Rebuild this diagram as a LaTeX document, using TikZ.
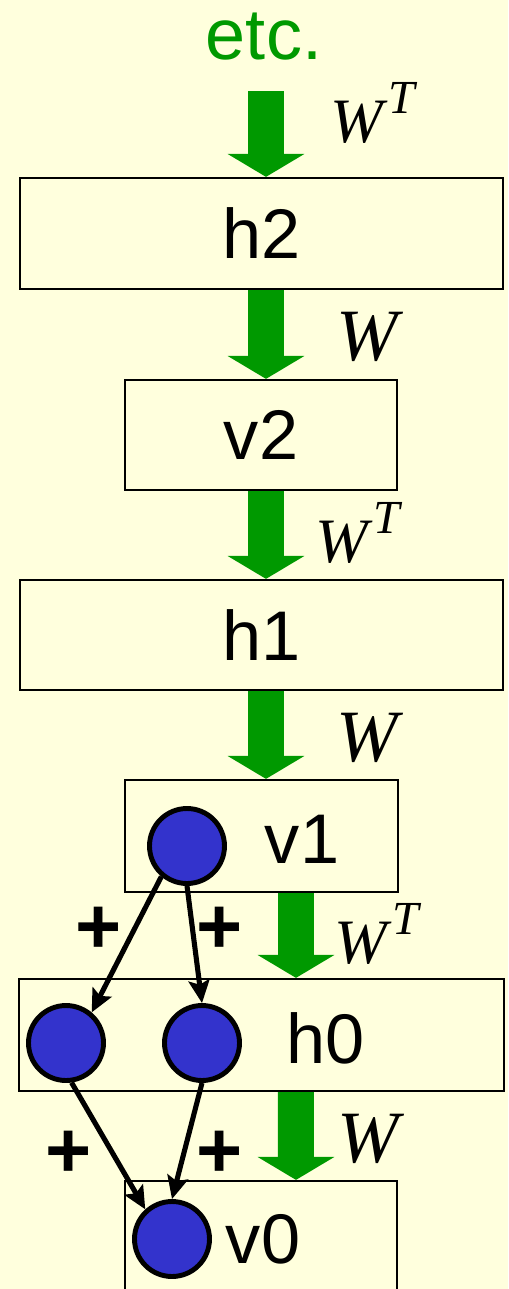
\documentclass[tikz,border=0pt]{standalone}
\usepackage{fontspec}
\setmainfont{Liberation Sans}
\newfontfamily\timesfont{Liberation Serif}
\usetikzlibrary{arrows.meta}
\definecolor{bgyellow}{HTML}{FFFFDD}
\definecolor{arrgreen}{HTML}{009900}
\definecolor{unitblue}{HTML}{3333CC}
\newcommand{\Wlabel}{{\timesfont\itshape W}}
\newcommand{\WTlabel}{{\timesfont\itshape W\kern3pt\raisebox{16pt}{\fontsize{27}{27}\selectfont T}}}
\begin{document}
\begin{tikzpicture}[x=0.02cm,y=-0.02cm,
  layer/.style={draw=black,line width=1.3pt,inner sep=0pt,font=\fontsize{40}{48}\selectfont},
  unit/.style={circle,draw=black,line width=2.8pt,fill=unitblue,minimum size=1.5cm,inner sep=0pt},
  link/.style={line width=2.9pt,-{Stealth[length=13pt,width=12pt,inset=2.5pt]}},
  bigarrow/.style={arrgreen,line width=0.72cm,-{Triangle[width=1.54cm,length=0.46cm,line width=0pt]}},
  plus/.style={font=\fontsize{45}{50}\selectfont\bfseries},
  wlab/.style={anchor=base west,font=\fontsize{42}{48}\selectfont},
  wtlab/.style={anchor=base west,font=\fontsize{36}{40}\selectfont}]
\fill[bgyellow] (0,0) rectangle (508,1289);
\useasboundingbox (0,0) rectangle (508,1289);

% layers
\node[layer,minimum width=9.66cm,minimum height=2.22cm] (h2) at (261.5,233.5) {h2};
\node[layer,minimum width=5.44cm,minimum height=2.2cm] (v2) at (261,435) {v2};
\node[layer,minimum width=9.66cm,minimum height=2.2cm] (h1) at (261.5,635) {h1};
\node[layer,minimum width=5.46cm,minimum height=2.24cm] (v1) at (261.5,836) {};
\node[layer,minimum width=9.7cm,minimum height=2.24cm] (h0) at (261.5,1035) {};
\node[layer,minimum width=5.44cm,minimum height=2.4cm] (v0) at (261,1241) {};
\node[font=\fontsize{40}{48}\selectfont,anchor=base] (v1lab) at (302,863) {v1};
\node[font=\fontsize{40}{48}\selectfont,anchor=base] (h0lab) at (326,1063) {h0};
\node[font=\fontsize{40}{48}\selectfont,anchor=base] (v0lab) at (263,1263) {v0};
\node[font=\fontsize{41}{48}\selectfont,text=arrgreen,anchor=base] (etc) at (264,59) {etc.};

% green arrows
\coordinate (top) at (266,91);
\draw[bigarrow] (top) -- ([xshift=0.09cm]h2.north);
\draw[bigarrow] ([xshift=0.09cm]h2.south) -- ([xshift=0.1cm]v2.north);
\draw[bigarrow] ([xshift=0.1cm]v2.south) -- ([xshift=0.09cm]h1.north);
\draw[bigarrow] ([xshift=0.09cm]h1.south) -- ([xshift=0.09cm]v1.north);
\draw[bigarrow] ([xshift=0.69cm]v1.south) -- ([xshift=0.69cm]h0.north);
\draw[bigarrow] ([xshift=0.69cm]h0.south) -- ([xshift=0.7cm]v0.north);
\node[wtlab] (w1) at (324,142) {\WTlabel};
\node[wlab] (w2) at (330,360) {\Wlabel};
\node[wtlab] (w3) at (309,562) {\WTlabel};
\node[wlab] (w4) at (330,761) {\Wlabel};
\node[wtlab] (w5) at (328,963) {\WTlabel};
\node[wlab] (w6) at (331,1162) {\Wlabel};

% units
\node[unit] (n1) at (187,846) {};
\node[unit] (a1) at (66,1043) {};
\node[unit] (a2) at (202,1043) {};
\node[unit] (n0) at (172,1239) {};
\draw[link] (n1.230) -- (a1.50);
\draw[link] (n1.270) -- (a2.90);
\draw[link] (a1.278) -- (n0.132);
\draw[link] (a2.270) -- (n0.90);
\node[plus] (p1) at (99,930) {+};
\node[plus] (p2) at (220,930) {+};
\node[plus] (p3) at (69,1154) {+};
\node[plus] (p4) at (220,1154) {+};

\end{tikzpicture}
\end{document}
